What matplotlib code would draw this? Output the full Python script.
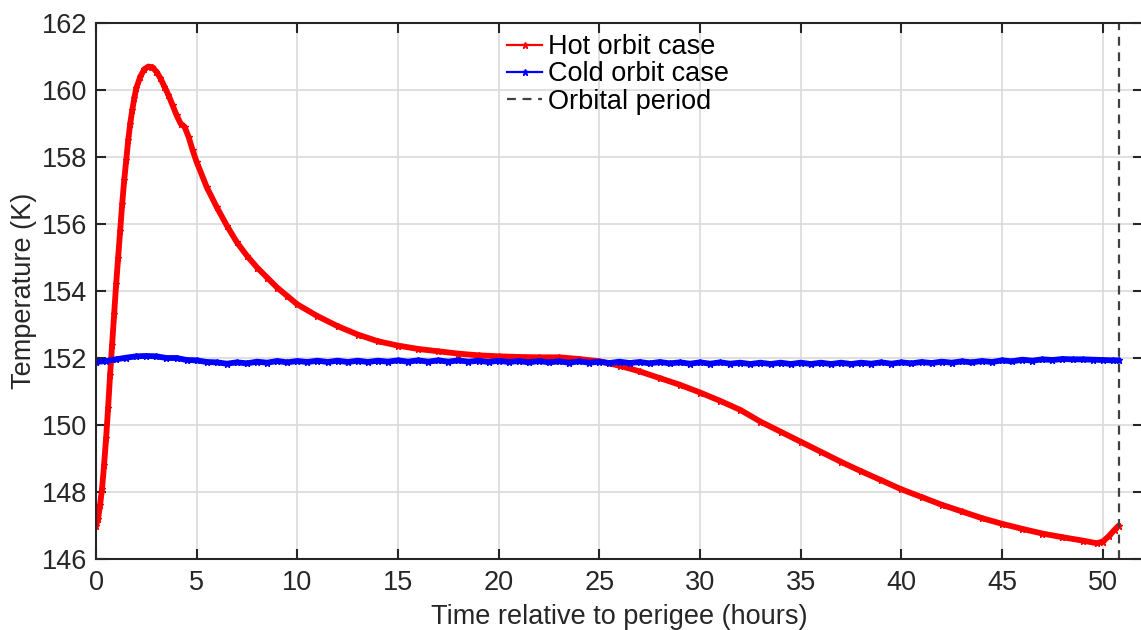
import matplotlib
matplotlib.use("Agg")
import matplotlib.pyplot as plt
from matplotlib.lines import Line2D

plt.rcParams['font.family'] = ['Liberation Sans', 'DejaVu Sans']

# Hot orbit case: time (h) and temperature (K)
hot_t = [0.0, 0.1, 0.2, 0.3, 0.4, 0.5, 0.6, 0.7, 0.8, 0.9, 1.0, 1.1, 1.2, 1.3,
         1.4, 1.5, 1.6, 1.7, 1.8, 1.9, 2.0, 2.2, 2.4, 2.6, 2.8, 3.0, 3.2, 3.4,
         3.6, 3.8, 4.0, 4.2, 4.4, 4.6, 4.8, 5.0, 5.5, 6.0, 6.5, 7.0, 7.5, 8.0,
         8.5, 9.0, 9.5, 10.0, 11.0, 12.0, 13.0, 14.0, 15.0, 16.0, 17.0, 18.0,
         19.0, 20.0, 21.0, 22.0, 23.0, 24.0, 25.0, 26.0, 27.0, 28.0, 29.0,
         30.0, 31.0, 32.0, 33.0, 34.0, 35.0, 36.0, 37.0, 38.0, 39.0, 40.0,
         41.0, 42.0, 43.0, 44.0, 45.0, 46.0, 47.0, 48.0, 49.0, 49.7, 50.0,
         50.3, 50.6, 50.8]
hot_T = [147.0, 147.2, 147.6, 148.1, 148.8, 149.6, 150.5, 151.5, 152.4, 153.3,
         154.2, 155.0, 155.8, 156.6, 157.3, 157.9, 158.5, 159.0, 159.4, 159.75,
         160.05, 160.4, 160.62, 160.7, 160.68, 160.55, 160.35, 160.1, 159.85,
         159.55, 159.25, 159.0, 158.9, 158.6, 158.2, 157.85, 157.1, 156.5,
         155.95, 155.45, 155.05, 154.7, 154.4, 154.1, 153.85, 153.6, 153.25,
         152.95, 152.7, 152.5, 152.37, 152.27, 152.2, 152.13, 152.08, 152.05,
         152.03, 152.02, 152.02, 151.97, 151.9, 151.77, 151.6, 151.4, 151.2,
         150.97, 150.72, 150.45, 150.1, 149.8, 149.5, 149.2, 148.9, 148.62,
         148.35, 148.08, 147.85, 147.62, 147.42, 147.22, 147.05, 146.9, 146.76,
         146.65, 146.55, 146.47, 146.52, 146.68, 146.88, 147.0]

# Cold orbit case: time (h) and temperature (K)
cold_t = [0.0, 0.5, 1.0, 1.5, 2.0, 2.5, 3.0, 3.5, 4.0, 4.5, 5.0, 5.5, 6.0, 6.5,
          7.0, 7.5, 8.0, 8.5, 9.0, 9.5, 10.0, 10.5, 11.0, 11.5, 12.0, 12.5,
          13.0, 13.5, 14.0, 14.5, 15.0, 15.5, 16.0, 16.5, 17.0, 17.5, 18.0,
          18.5, 19.0, 19.5, 20.0, 20.5, 21.0, 21.5, 22.0, 22.5, 23.0, 23.5,
          24.0, 24.5, 25.0, 25.5, 26.0, 26.5, 27.0, 27.5, 28.0, 28.5, 29.0,
          29.5, 30.0, 30.5, 31.0, 31.5, 32.0, 32.5, 33.0, 33.5, 34.0, 34.5,
          35.0, 35.5, 36.0, 36.5, 37.0, 37.5, 38.0, 38.5, 39.0, 39.5, 40.0,
          40.5, 41.0, 41.5, 42.0, 42.5, 43.0, 43.5, 44.0, 44.5, 45.0, 45.5,
          46.0, 46.5, 47.0, 47.5, 48.0, 48.5, 49.0, 49.5, 50.0, 50.5, 50.8]
cold_T = [151.88, 151.91, 151.96, 152.01, 152.05, 152.06, 152.05, 152.00,
          152.00, 151.94, 151.93, 151.88, 151.87, 151.83, 151.87, 151.84,
          151.89, 151.86, 151.91, 151.87, 151.91, 151.88, 151.92, 151.88,
          151.92, 151.88, 151.92, 151.88, 151.92, 151.89, 151.93, 151.89,
          151.93, 151.89, 151.93, 151.89, 151.93, 151.89, 151.92, 151.88,
          151.92, 151.88, 151.91, 151.87, 151.91, 151.87, 151.90, 151.86,
          151.90, 151.86, 151.89, 151.85, 151.89, 151.85, 151.88, 151.84,
          151.88, 151.84, 151.87, 151.83, 151.87, 151.83, 151.87, 151.83,
          151.86, 151.82, 151.86, 151.82, 151.86, 151.82, 151.86, 151.82,
          151.86, 151.82, 151.86, 151.82, 151.86, 151.83, 151.87, 151.83,
          151.87, 151.84, 151.88, 151.85, 151.89, 151.86, 151.90, 151.87,
          151.91, 151.88, 151.93, 151.90, 151.95, 151.92, 151.96, 151.94,
          151.97, 151.96, 151.96, 151.95, 151.94, 151.93, 151.93]

orbital_period = 50.8
x_ticks = [0, 5, 10, 15, 20, 25, 30, 35, 40, 45, 50]
y_ticks = [146, 148, 150, 152, 154, 156, 158, 160, 162]

FS = 19.5
INK = '#262626'

fig = plt.figure(figsize=(11.41, 6.30), dpi=100)
ax = fig.add_axes([96 / 1141, 1 - 559 / 630, (1143 - 96) / 1141, (559 - 23) / 630])

ax.plot(hot_t, hot_T, color='red', lw=4.2, marker='*', ms=5, mew=1,
        solid_joinstyle='round', solid_capstyle='round')
ax.plot(cold_t, cold_T, color='blue', lw=4.2, marker='*', ms=5, mew=1,
        solid_joinstyle='round', solid_capstyle='round')
ax.axvline(orbital_period, color='#404040', lw=1.6, dashes=(4, 3))

ax.set_xlim(0, 52)
ax.set_ylim(146, 162)
ax.set_xticks(x_ticks)
ax.set_yticks(y_ticks)
ax.grid(True, color='#dadada', lw=1.2)
ax.set_axisbelow(True)

for s in ax.spines.values():
    s.set_color(INK)
    s.set_linewidth(1.5)
ax.tick_params(direction='in', length=7, width=1.5, color=INK,
               top=True, right=True, labelsize=FS, labelcolor=INK)
ax.tick_params(axis='x', pad=8)
ax.tick_params(axis='y', pad=6.5)

ax.set_xlabel('Time relative to perigee (hours)', fontsize=FS,
              color=INK, labelpad=5.5)
ax.set_ylabel('Temperature (K)', fontsize=FS, color=INK, labelpad=3)

handles = [
    Line2D([], [], color='red', lw=1.6, marker='*', ms=5, markevery=[1]),
    Line2D([], [], color='blue', lw=1.6, marker='*', ms=5, markevery=[1]),
    Line2D([], [], color='#404040', lw=1.6, dashes=(4, 3)),
]
leg = ax.legend(handles, ['Hot orbit case', 'Cold orbit case', 'Orbital period'],
                loc='upper left',
                bbox_to_anchor=((507 - 96) / 1047, (559 - 34) / 536),
                frameon=False, fontsize=FS, handlelength=1.3, handletextpad=0.2,
                labelspacing=0.05, borderaxespad=0, borderpad=0)
for t in leg.get_texts():
    t.set_color('black')

fig.savefig('out.png', dpi=100)
